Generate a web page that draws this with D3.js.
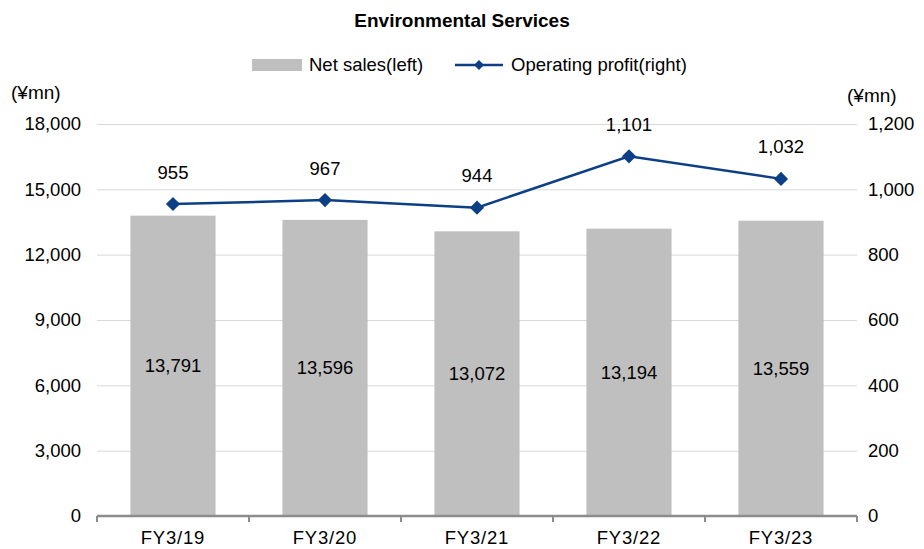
<!DOCTYPE html>
<html>
<head>
<meta charset="utf-8">
<script src="https://cdn.jsdelivr.net/npm/d3@7"></script>
<style>
  body { margin: 0; background: #fff; }
  text { font-family: "Liberation Sans", Arial, sans-serif; fill: #000; }
</style>
</head>
<body>
<svg id="chart"></svg>
<script>
const categories = ['FY3/19', 'FY3/20', 'FY3/21', 'FY3/22', 'FY3/23'];
const netSales = [13791, 13596, 13072, 13194, 13559];
const operatingProfit = [955, 967, 944, 1101, 1032];
const leftTicks = [0, 3000, 6000, 9000, 12000, 15000, 18000];
const rightTicks = [0, 200, 400, 600, 800, 1000, 1200];

const width = 924, height = 549;
const margin = { top: 124, right: 67, bottom: 33, left: 97 };
const innerW = width - margin.left - margin.right;
const innerH = height - margin.top - margin.bottom;
const barColor = '#bfbfbf';
const lineColor = '#0c3f85';
const fmt = d3.format(',');
const fontSize = 18.5;

const svg = d3.select('#chart')
    .attr('width', width)
    .attr('height', height);

const chart = svg.append('g')
    .attr('transform', `translate(${margin.left},${margin.top})`);

const xScale = d3.scaleBand()
    .domain(categories)
    .range([0, innerW])
    .paddingInner(0.44)
    .paddingOuter(0.22);

const yLeft = d3.scaleLinear().domain([0, 18000]).range([innerH, 0]);
const yRight = d3.scaleLinear().domain([0, 1200]).range([innerH, 0]);

// gridlines
chart.append('g')
    .call(d3.axisLeft(yLeft).tickValues(leftTicks).tickSize(-innerW).tickFormat(''))
    .call(g => g.select('.domain').remove())
    .call(g => g.selectAll('line').attr('stroke', '#d9d9d9').attr('stroke-width', 1));

// left axis labels
chart.append('g')
    .call(d3.axisLeft(yLeft).tickValues(leftTicks).tickSize(0).tickPadding(16).tickFormat(fmt))
    .call(g => g.select('.domain').remove())
    .call(g => g.selectAll('text').attr('font-size', fontSize).style('font-family', '"Liberation Sans", Arial, sans-serif'));

// right axis labels
chart.append('g')
    .attr('transform', `translate(${innerW},0)`)
    .call(d3.axisRight(yRight).tickValues(rightTicks).tickSize(0).tickPadding(11).tickFormat(fmt))
    .call(g => g.select('.domain').remove())
    .call(g => g.selectAll('text').attr('font-size', fontSize).style('font-family', '"Liberation Sans", Arial, sans-serif'));

// bars
chart.selectAll('.bar')
    .data(netSales)
    .join('rect')
    .attr('class', 'bar')
    .attr('x', (d, i) => xScale(categories[i]))
    .attr('y', d => yLeft(d))
    .attr('width', xScale.bandwidth())
    .attr('height', d => innerH - yLeft(d))
    .attr('fill', barColor);

// bar labels
chart.selectAll('.bar-label')
    .data(netSales)
    .join('text')
    .attr('class', 'bar-label')
    .attr('x', (d, i) => xScale(categories[i]) + xScale.bandwidth() / 2)
    .attr('y', d => (yLeft(d) + innerH) / 2)
    .attr('dy', '0.35em')
    .attr('text-anchor', 'middle')
    .attr('font-size', fontSize)
    .text(fmt);

// x axis
const step = xScale.step();
const xAxisG = chart.append('g')
    .attr('transform', `translate(0,${innerH})`);
xAxisG.append('line')
    .attr('x1', 0).attr('x2', innerW)
    .attr('stroke', '#8c8c8c').attr('stroke-width', 2.5);
xAxisG.selectAll('.xtick')
    .data(d3.range(categories.length + 1))
    .join('line')
    .attr('class', 'xtick')
    .attr('x1', d => d * step).attr('x2', d => d * step)
    .attr('y1', 0).attr('y2', 6)
    .attr('stroke', '#8c8c8c').attr('stroke-width', 2);
xAxisG.selectAll('.xlabel')
    .data(categories)
    .join('text')
    .attr('class', 'xlabel')
    .attr('x', d => xScale(d) + xScale.bandwidth() / 2)
    .attr('y', 22)
    .attr('dy', '0.35em')
    .attr('text-anchor', 'middle')
    .attr('font-size', fontSize)
    .attr('letter-spacing', 0.8)
    .text(d => d);

// line
const line = d3.line()
    .x((d, i) => xScale(categories[i]) + xScale.bandwidth() / 2)
    .y(d => yRight(d));

chart.append('path')
    .datum(operatingProfit)
    .attr('d', line)
    .attr('fill', 'none')
    .attr('stroke', lineColor)
    .attr('stroke-width', 2.5);

const diamond = d3.symbol().type(d3.symbolSquare).size(100);
chart.selectAll('.marker')
    .data(operatingProfit)
    .join('path')
    .attr('class', 'marker')
    .attr('d', diamond)
    .attr('transform', (d, i) => `translate(${xScale(categories[i]) + xScale.bandwidth() / 2},${yRight(d)}) rotate(45)`)
    .attr('fill', lineColor);

chart.selectAll('.line-label')
    .data(operatingProfit)
    .join('text')
    .attr('class', 'line-label')
    .attr('x', (d, i) => xScale(categories[i]) + xScale.bandwidth() / 2)
    .attr('y', d => yRight(d) - 32)
    .attr('dy', '0.35em')
    .attr('text-anchor', 'middle')
    .attr('font-size', fontSize)
    .text(fmt);

// unit labels
svg.append('text')
    .attr('x', 11).attr('y', 92)
    .attr('dy', '0.35em')
    .attr('font-size', 19)
    .text('(¥mn)');
svg.append('text')
    .attr('x', 847).attr('y', 95)
    .attr('dy', '0.35em')
    .attr('font-size', 19)
    .text('(¥mn)');

// title
svg.append('text')
    .attr('x', 462).attr('y', 20)
    .attr('dy', '0.35em')
    .attr('text-anchor', 'middle')
    .attr('font-size', 19)
    .attr('font-weight', 'bold')
    .text('Environmental Services');

// legend
const legend = svg.append('g').attr('transform', 'translate(0,65)');
legend.append('rect')
    .attr('x', 252).attr('y', -6).attr('width', 50).attr('height', 12)
    .attr('fill', barColor);
legend.append('text')
    .attr('x', 309).attr('y', 0).attr('dy', '0.35em')
    .attr('font-size', fontSize)
    .text('Net sales(left)');
legend.append('line')
    .attr('x1', 455).attr('x2', 503)
    .attr('stroke', lineColor).attr('stroke-width', 2.5);
legend.append('path')
    .attr('d', d3.symbol().type(d3.symbolSquare).size(50))
    .attr('transform', 'translate(479,0) rotate(45)')
    .attr('fill', lineColor);
legend.append('text')
    .attr('x', 511).attr('y', 0).attr('dy', '0.35em')
    .attr('font-size', fontSize)
    .text('Operating profit(right)');
</script>
</body>
</html>
